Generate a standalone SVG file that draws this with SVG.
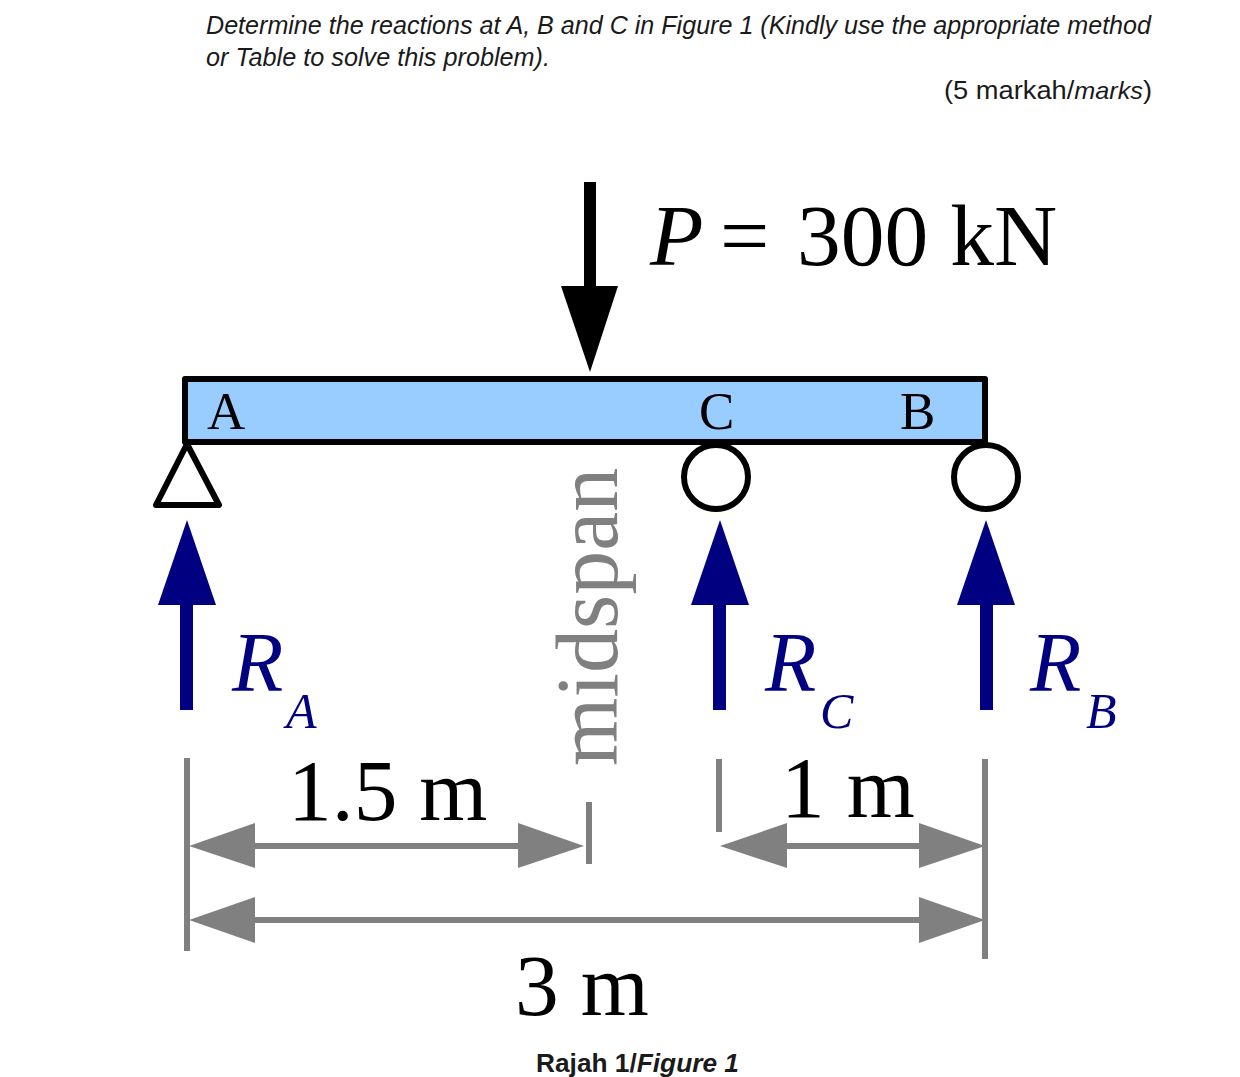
<svg xmlns="http://www.w3.org/2000/svg" width="1240" height="1077" viewBox="0 0 1240 1077">
<style>
.s{font-family:"Liberation Serif",serif}
.a{font-family:"Liberation Sans",Arial,sans-serif;fill:#1a1a1a}
.blue{fill:#000080}
.dim{stroke:#808080;fill:none}
.g{fill:#808080}
.big{font-size:87.5px;fill:#000}
.r{font-size:84px;font-style:italic}
.sub{font-size:50px;font-style:italic}
.lab{font-size:53px;fill:#000}
.st{stroke:#000;stroke-width:6;fill:#fff;stroke-linejoin:round}
</style>
<rect width="1240" height="1077" fill="#fff"/>
<g id="text">
<text class="a" x="206" y="34" font-size="25" font-style="italic" textLength="945" lengthAdjust="spacingAndGlyphs">Determine the reactions at A, B and C in Figure 1 (Kindly use the appropriate method</text>
<text class="a" x="206" y="66" font-size="25" font-style="italic" textLength="344" lengthAdjust="spacingAndGlyphs">or Table to solve this problem).</text>
<text class="a" x="944" y="99" font-size="26" textLength="208" lengthAdjust="spacingAndGlyphs">(5 markah/<tspan font-style="italic" font-size="24">marks</tspan>)</text>
<text class="a" x="536" y="1072" font-size="25" font-weight="bold" textLength="203" lengthAdjust="spacingAndGlyphs">Rajah 1/<tspan font-style="italic">Figure 1</tspan></text>
</g>
<g id="beam">
<rect x="185" y="379" width="800" height="63" fill="#99ccff" stroke="#000" stroke-width="6" stroke-linejoin="round"/>
<text class="s lab" x="207" y="429">A</text>
<text class="s lab" x="699" y="429">C</text>
<text class="s lab" x="900" y="429">B</text>
</g>
<g id="support-a"><polygon class="st" points="187,444 219,505 156,505"/></g>
<g id="support-c"><circle class="st" cx="716" cy="477" r="32"/></g>
<g id="support-b"><circle class="st" cx="986" cy="477" r="32"/></g>
<g id="load-p">
<rect x="584" y="182" width="12" height="106"/>
<polygon points="561,286 618,286 590,372"/>
<text class="s big" x="650" y="265" font-style="italic">P</text>
<text class="s big" x="720" y="265">=</text>
<text class="s big" x="797" y="265">300 kN</text>
</g>
<g id="reaction-a">
<polygon class="blue" points="187,520 216,605 158,605"/><rect class="blue" x="180" y="600" width="13" height="110"/>
<text class="s blue r" x="232" y="691">R</text>
<text class="s blue sub" x="286" y="728">A</text>
</g>
<g id="reaction-c">
<polygon class="blue" points="720,520 749,605 691,605"/><rect class="blue" x="713" y="600" width="13" height="110"/>
<text class="s blue r" x="765" y="691">R</text>
<text class="s blue sub" x="820" y="728">C</text>
</g>
<g id="reaction-b">
<polygon class="blue" points="986,520 1015,605 957,605"/><rect class="blue" x="980" y="600" width="13" height="110"/>
<text class="s blue r" x="1030" y="691">R</text>
<text class="s blue sub" x="1086" y="728">B</text>
</g>
<g id="midspan">
<text class="s" transform="translate(617 766) rotate(-90)" font-size="88" fill="#808080">midspan</text>
</g>
<g id="connectors">
<path class="dim" stroke-width="6" d="M187 758V951M589 802V864M719 759V832M985 759V959"/>
<path class="dim" stroke-width="6" d="M240 846H530M775 846H930M240 920H930"/>
<polygon class="g" points="189,846 255,823 255,868"/>
<polygon class="g" points="584,846 518,823 518,868"/>
<polygon class="g" points="720,846 787,823 787,868"/>
<polygon class="g" points="985,846 919,823 919,868"/>
<polygon class="g" points="189,920 255,897 255,943"/>
<polygon class="g" points="985,920 919,897 919,943"/>
</g>
<g id="dim-labels">
<text class="s big" x="288" y="820">1.5 m</text>
<text class="s big" x="781" y="817">1 m</text>
<text class="s big" x="515" y="1015">3 m</text>
</g>
</svg>
